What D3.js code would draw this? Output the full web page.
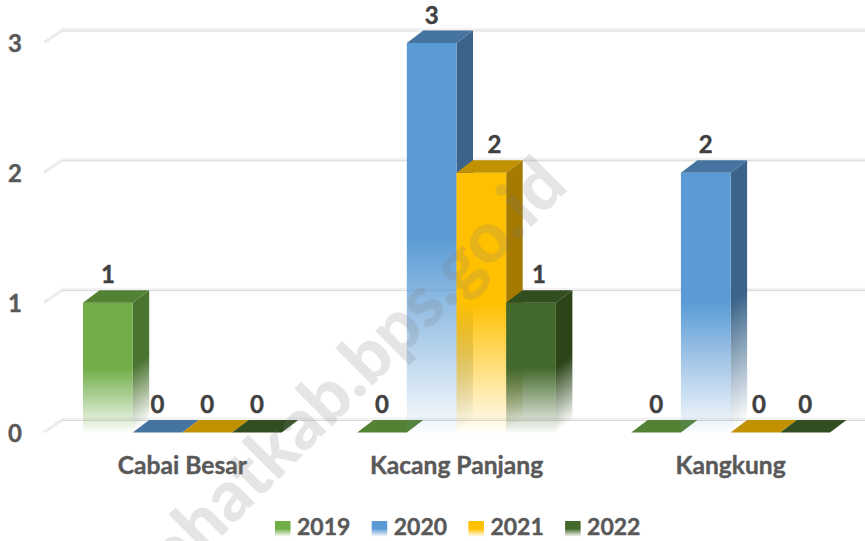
<!DOCTYPE html>
<html>
<head>
<meta charset="utf-8">
<script src="https://cdn.jsdelivr.net/npm/d3@7"></script>
<style>
  html, body { margin: 0; padding: 0; background: #fff; }
  svg { display: block; font-family: Lato, "Open Sans", sans-serif; font-weight: 700; }
</style>
</head>
<body>
<svg></svg>
<script>
const categories = ['Cabai Besar', 'Kacang Panjang', 'Kangkung'];
const years = ['2019', '2020', '2021', '2022'];
const values2019 = [1, 0, 0];
const values2020 = [0, 3, 2];
const values2021 = [0, 2, 0];
const values2022 = [0, 1, 0];
const seriesValues = [values2019, values2020, values2021, values2022];
const yTicks = [0, 1, 2, 3];

const frontColors = ['#70ad47', '#5b9bd5', '#ffc000', '#43682b'];
const topColors = ['#548235', '#44749f', '#c29100', '#324e20'];
const sideColors = ['#4b7430', '#3a6489', '#a47a00', '#2b4519'];

const width = 865;
const height = 541;
const depthX = 16.5; // 3d offset of the back face
const depthY = -12.5;

const svg = d3.select('svg').attr('width', width).attr('height', height);
const defs = svg.append('defs');

const x0 = d3.scaleBand().domain(categories).range([83, 830]).paddingInner(0.275).paddingOuter(0);
const x1 = d3.scaleBand().domain(years).range([0, x0.bandwidth()]);
const y = d3.scaleLinear().domain([0, 3]).range([432.5, 43]);

// grid lines on the back wall + the little diagonal on the side wall
const grid = svg.append('g');
grid.selectAll('path.wall').data(yTicks).enter().append('path')
  .attr('class', 'wall')
  .attr('d', d => `M${x0.range()[0] - 38},${y(d) - 1}L${x0.range()[0] - 21},${y(d) + depthY}`)
  .attr('fill', 'none').attr('stroke', '#ececec').attr('stroke-width', 3).attr('stroke-linecap', 'round');
grid.selectAll('line.soft').data(yTicks).enter().append('line')
  .attr('class', 'soft')
  .attr('x1', 62).attr('x2', width)
  .attr('y1', d => y(d) + depthY - 1).attr('y2', d => y(d) + depthY - 1)
  .attr('stroke', '#f2f2f2').attr('stroke-width', 3);
grid.selectAll('line.hard').data(yTicks).enter().append('line')
  .attr('class', 'hard')
  .attr('x1', 62).attr('x2', width)
  .attr('y1', d => y(d) + depthY + 0.5).attr('y2', d => y(d) + depthY + 0.5)
  .attr('stroke', '#d9d9d9').attr('stroke-width', 1);

// fade to white on the lower half of the bars
years.forEach((yr, s) => {
  const g = defs.append('linearGradient').attr('id', 'front' + yr)
    .attr('x1', 0).attr('y1', 0).attr('x2', 0).attr('y2', 1);
  g.append('stop').attr('offset', '0.5').attr('stop-color', frontColors[s]);
  g.append('stop').attr('offset', '1').attr('stop-color', frontColors[s]).attr('stop-opacity', 0.03);
});

const bars = [];
years.forEach((yr, s) => {
  categories.forEach((cat, c) => {
    bars.push({ cat, c, yr, s, value: seriesValues[s][c] });
  });
});
bars.sort((a, b) => a.c - b.c || a.s - b.s);

const barX = d => x0(d.cat) + x1(d.yr);
const w = x1.bandwidth();

const barG = svg.append('g').selectAll('g').data(bars).enter().append('g');

// side face, its fade is skewed along the face
barG.filter(d => d.value > 0).each(function (d, i) {
  const xr = barX(d) + w;
  const id = 'side' + d.c + d.s;
  const g = defs.append('linearGradient').attr('id', id)
    .attr('gradientUnits', 'userSpaceOnUse')
    .attr('x1', 0).attr('x2', 0).attr('y1', y(d.value)).attr('y2', y(0))
    .attr('gradientTransform', `translate(${xr},0) skewY(-37) translate(${-xr},0)`);
  g.append('stop').attr('offset', '0.5').attr('stop-color', sideColors[d.s]);
  g.append('stop').attr('offset', '1').attr('stop-color', sideColors[d.s]).attr('stop-opacity', 0);
  d3.select(this).append('path')
    .attr('d', `M${xr},${y(d.value)}l${depthX},${depthY}L${xr + depthX},${y(0) + depthY}L${xr},${y(0)}Z`)
    .attr('fill', `url(#${id})`);
});

barG.filter(d => d.value > 0).append('rect')
  .attr('x', barX)
  .attr('y', d => y(d.value))
  .attr('width', w)
  .attr('height', d => y(0) - y(d.value))
  .attr('fill', d => `url(#front${d.yr})`);

barG.append('path')
  .attr('d', d => `M${barX(d)},${y(d.value)}l${w},0l${depthX},${depthY}l${-w},0Z`)
  .attr('fill', d => topColors[d.s]);

// value labels, the two on Kacang Panjang were dragged right in the original
const labelShift = d => d.c === 1 && d.s === 2 ? 13 : d.c === 1 && d.s === 3 ? 8 : d.c === 2 && d.s === 2 ? 3.5 : 0;
svg.append('g').selectAll('text').data(bars).enter().append('text')
  .attr('x', d => barX(d) + w / 2 + labelShift(d))
  .attr('y', d => y(d.value) - 19.5)
  .attr('text-anchor', 'middle')
  .attr('font-size', 24)
  .attr('fill', '#404040')
  .attr('stroke', '#404040').attr('stroke-width', 0.4)
  .text(d => d.value);

// axes, text only
const yAxis = svg.append('g').attr('transform', 'translate(22,1.3)')
  .call(d3.axisLeft(y).tickValues(yTicks).tickFormat(d3.format('d')).tickSize(0).tickPadding(0));
yAxis.select('.domain').remove();
yAxis.selectAll('text').attr('font-size', 24).attr('fill', '#595959')
  .attr('stroke', '#595959').attr('stroke-width', 0.4)
  .attr('font-family', 'Lato').attr('font-weight', 700);

const xAxis = svg.append('g').attr('transform', 'translate(0,474)')
  .call(d3.axisBottom(x0).tickSize(0).tickPadding(0));
xAxis.select('.domain').remove();
xAxis.selectAll('text').attr('font-size', 24.6).attr('fill', '#595959').attr('dy', 0)
  .attr('stroke', '#595959').attr('stroke-width', 0.4)
  .attr('font-family', 'Lato').attr('font-weight', 700);

// legend
const legend = svg.append('g').selectAll('g').data(years).enter().append('g')
  .attr('transform', (d, i) => `translate(${275 + i * 96.7},521)`);
legend.append('rect').attr('width', 15.5).attr('height', 15.5)
  .attr('fill', d => `url(#front${d})`);
legend.append('text').attr('x', 22).attr('y', 14)
  .attr('font-size', 23).attr('fill', '#595959')
  .attr('stroke', '#595959').attr('stroke-width', 0.4).text(d => d);

// watermark sits over everything
svg.append('text')
  .attr('transform', 'translate(570,188) rotate(-45)')
  .attr('text-anchor', 'end')
  .attr('font-size', 71)
  .attr('font-weight', 900)
  .attr('fill', '#7f7f7f')
  .attr('fill-opacity', 0.2)
  .text('lahatkab.bps.go.id');
</script>
</body>
</html>
